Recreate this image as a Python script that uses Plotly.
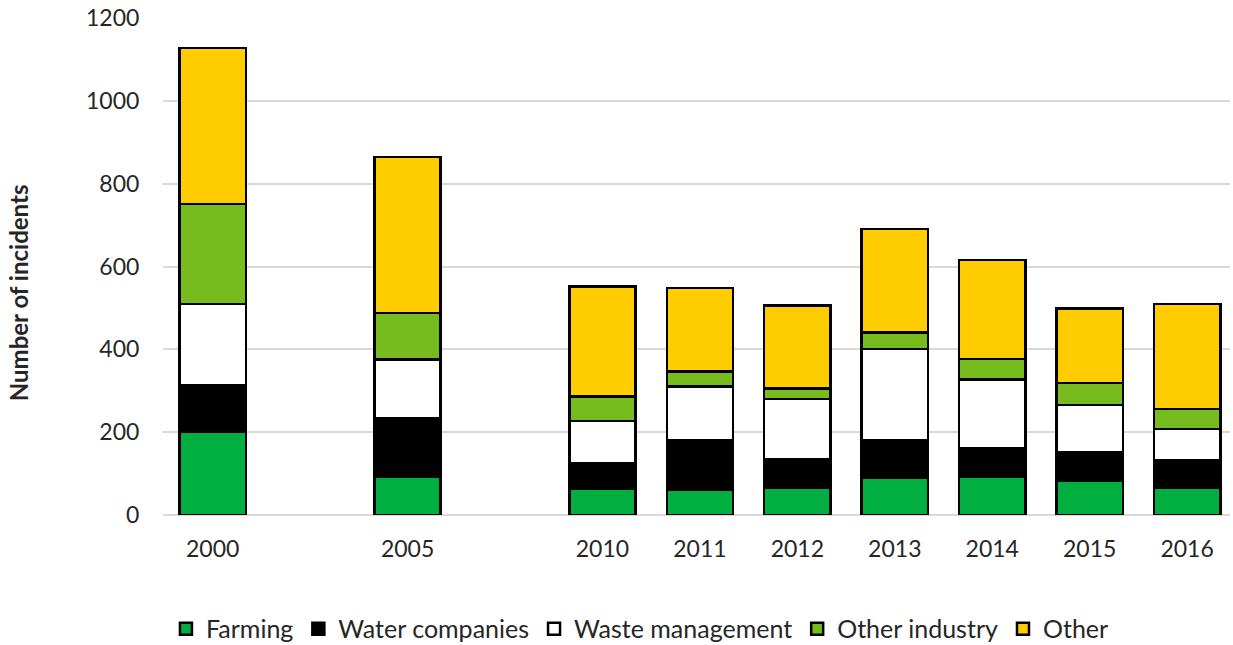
import plotly.graph_objects as go

years = ["2000", "2005", "2010", "2011", "2012", "2013", "2014", "2015", "2016"]
farming = [202, 93, 64, 60, 67, 90, 93, 83, 67]
water_companies = [112, 140, 61, 120, 68, 91, 67, 68, 64]
waste_management = [196, 142, 102, 130, 145, 220, 167, 115, 77]
other_industry = [241, 113, 59, 37, 25, 40, 50, 53, 48]
other = [377, 377, 266, 201, 201, 249, 239, 180, 253]

series = [
    ("Farming", farming, "#00AF3F"),
    ("Water companies", water_companies, "#000000"),
    ("Waste management", waste_management, "#FFFFFF"),
    ("Other industry", other_industry, "#77BC1F"),
    ("Other", other, "#FFCC00"),
]

# slot positions: gap of one empty slot after 2000 and after 2005
x_pos = []
p = 0
for i, y in enumerate(years):
    x_pos.append(p)
    p += 2 if int(y) < 2010 else 1

fig = go.Figure()
for name, vals, col in series:
    fig.add_trace(go.Bar(
        x=x_pos, y=vals, name=name, width=0.68,
        marker=dict(color=col, line=dict(color="#000000", width=2.5)),
    ))

font_family = "Lato, Open Sans, sans-serif"
fig.update_layout(
    barmode="stack",
    width=1233, height=645,
    margin=dict(l=163, r=3, t=18, b=130),
    plot_bgcolor="white", paper_bgcolor="white",
    font=dict(family=font_family, size=22, color="#262626"),
    xaxis=dict(
        tickmode="array", tickvals=x_pos, ticktext=years,
        range=[-0.51, 10.44], showgrid=False, zeroline=False, showline=False,
        ticks="outside", ticklen=13, tickcolor="rgba(0,0,0,0)",
        tickfont=dict(size=23, color="#262626"),
    ),
    yaxis=dict(
        range=[0, 1200], tickvals=[0, 200, 400, 600, 800, 1000, 1200],
        showgrid=True, gridcolor="#D9D9D9", gridwidth=2,
        zeroline=True, zerolinecolor="#D9D9D9", zerolinewidth=2,
        showline=False, ticks="outside", ticklen=18, tickcolor="rgba(0,0,0,0)",
        tickfont=dict(size=23, color="#262626"), ticklabeloverflow="allow",
    ),
    legend=dict(
        orientation="h", x=0.447, xanchor="center",
        yref="container", y=0.025, yanchor="middle",
        font=dict(size=25, color="#262626"), traceorder="normal",
        itemwidth=30,
    ),
    annotations=[dict(
        text="<b>Number of incidents</b>", xref="paper", yref="paper",
        x=-0.136, y=0.448, xanchor="center", yanchor="middle",
        textangle=-90, showarrow=False, font=dict(size=24, color="#262626"),
    )],
)

fig.write_html("out.html", post_script="document.body.style.margin='0';",
               config={"displayModeBar": False})
